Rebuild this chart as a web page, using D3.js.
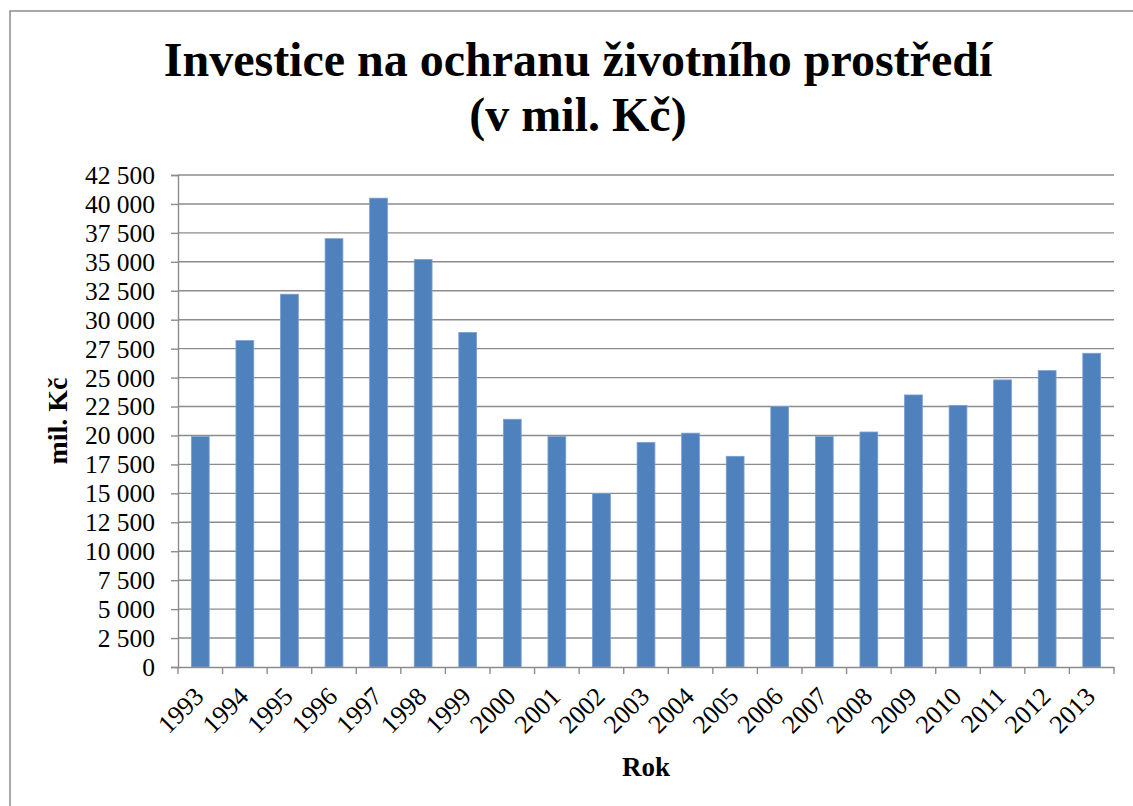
<!DOCTYPE html>
<html>
<head>
<meta charset="utf-8">
<script src="https://cdn.jsdelivr.net/npm/d3@7"></script>
<style>
  body { margin: 0; background: #fff; }
  text { font-family: "Liberation Serif", "Times New Roman", serif; fill: #000; }
</style>
</head>
<body>
<div id="chart"></div>
<script>
// data
var years = ["1993", "1994", "1995", "1996", "1997", "1998", "1999", "2000", "2001", "2002", "2003",
             "2004", "2005", "2006", "2007", "2008", "2009", "2010", "2011", "2012", "2013"];
var investice = [19900, 28200, 32200, 37000, 40500, 35200, 28900, 21400, 19900, 14980, 19400,
                 20200, 18200, 22500, 19900, 20300, 23500, 22600, 24800, 25600, 27100];
var yTicks = [0, 2500, 5000, 7500, 10000, 12500, 15000, 17500, 20000, 22500, 25000,
              27500, 30000, 32500, 35000, 37500, 40000, 42500];

var width = 1133;
var height = 806;

var margin = { top: 175, right: 19, bottom: 139, left: 178 };
var chartWidth = width - margin.left - margin.right;
var chartHeight = height - margin.top - margin.bottom;

var svg = d3.select("#chart")
    .append("svg")
    .attr("width", width)
    .attr("height", height);

// chart frame (runs off the right and bottom edges)
svg.append("rect")
    .attr("x", 10).attr("y", 11)
    .attr("width", 1200).attr("height", 900)
    .attr("fill", "none")
    .attr("stroke", "#8c8c8c")
    .attr("stroke-width", 1.5);

// title
var title = svg.append("text")
    .attr("text-anchor", "middle")
    .style("font-weight", "bold")
    .style("font-size", "48px");
title.append("tspan").attr("x", 578).attr("y", 76).text("Investice na ochranu životního prostředí");
title.append("tspan").attr("x", 578).attr("y", 131).text("(v mil. Kč)");

var chartGroup = svg.append("g")
    .attr("transform", `translate(${margin.left}, ${margin.top})`);

var x = d3.scaleBand()
    .domain(years)
    .range([0, chartWidth])
    .paddingInner(0.6)
    .paddingOuter(0.3);

var y = d3.scaleLinear()
    .domain([0, 42500])
    .range([chartHeight, 0]);

var locale = d3.formatLocale({ decimal: ",", thousands: " ", grouping: [3], currency: ["", " Kč"] });
var fmt = locale.format(",d");

// gridlines
chartGroup.append("g")
    .selectAll("line")
    .data(yTicks.filter(d => d > 0))
    .enter()
    .append("line")
    .attr("x1", 0)
    .attr("x2", chartWidth)
    .attr("y1", d => y(d))
    .attr("y2", d => y(d))
    .attr("stroke", "#8c8c8c")
    .attr("stroke-width", 1.4);

// bars
chartGroup.selectAll("rect.bar")
    .data(investice)
    .enter()
    .append("rect")
    .attr("class", "bar")
    .attr("x", (d, i) => x(years[i]))
    .attr("y", d => y(d))
    .attr("width", x.bandwidth())
    .attr("height", d => chartHeight - y(d))
    .attr("fill", "#4f81bd")
    .attr("stroke", "#7ba0d4")
    .attr("stroke-width", 0.8);

// y axis
var yAxis = d3.axisLeft(y)
    .tickValues(yTicks)
    .tickFormat(fmt)
    .tickSize(7)
    .tickPadding(16);

var yG = chartGroup.append("g").call(yAxis);
yG.selectAll("text").style("font-size", "25.5px").attr("dy", "0.33em");

// x axis, ticks on category edges
var xAxis = d3.axisBottom(x).tickSize(0).tickFormat("");
var xG = chartGroup.append("g")
    .attr("transform", `translate(0, ${chartHeight})`)
    .call(xAxis);

var edges = years.map(d => x(d) - x.step() * 0.3);
edges.push(chartWidth);
xG.selectAll("line.edge")
    .data(edges)
    .enter()
    .append("line")
    .attr("class", "edge")
    .attr("x1", d => d).attr("x2", d => d)
    .attr("y1", 0).attr("y2", 7)
    .attr("stroke", "#8c8c8c")
    .attr("stroke-width", 1.4);

chartGroup.selectAll(".domain")
    .attr("stroke", "#8c8c8c")
    .attr("stroke-width", 1.4);
yG.selectAll(".tick line").attr("stroke", "#8c8c8c").attr("stroke-width", 1.4);

// rotated year labels
chartGroup.append("g")
    .selectAll("text")
    .data(years)
    .enter()
    .append("text")
    .attr("text-anchor", "end")
    .attr("transform", d => `translate(${x(d) + x.bandwidth() / 2 + 5}, ${chartHeight + 31}) rotate(-45)`)
    .style("font-size", "26px")
    .text(d => d);

// axis titles
svg.append("text")
    .attr("transform", `translate(67, ${margin.top + chartHeight / 2}) rotate(-90)`)
    .attr("text-anchor", "middle")
    .style("font-weight", "bold")
    .style("font-size", "28px")
    .text("mil. Kč");

svg.append("text")
    .attr("x", margin.left + chartWidth / 2)
    .attr("y", 776)
    .attr("text-anchor", "middle")
    .style("font-weight", "bold")
    .style("font-size", "27px")
    .text("Rok");
</script>
</body>
</html>
